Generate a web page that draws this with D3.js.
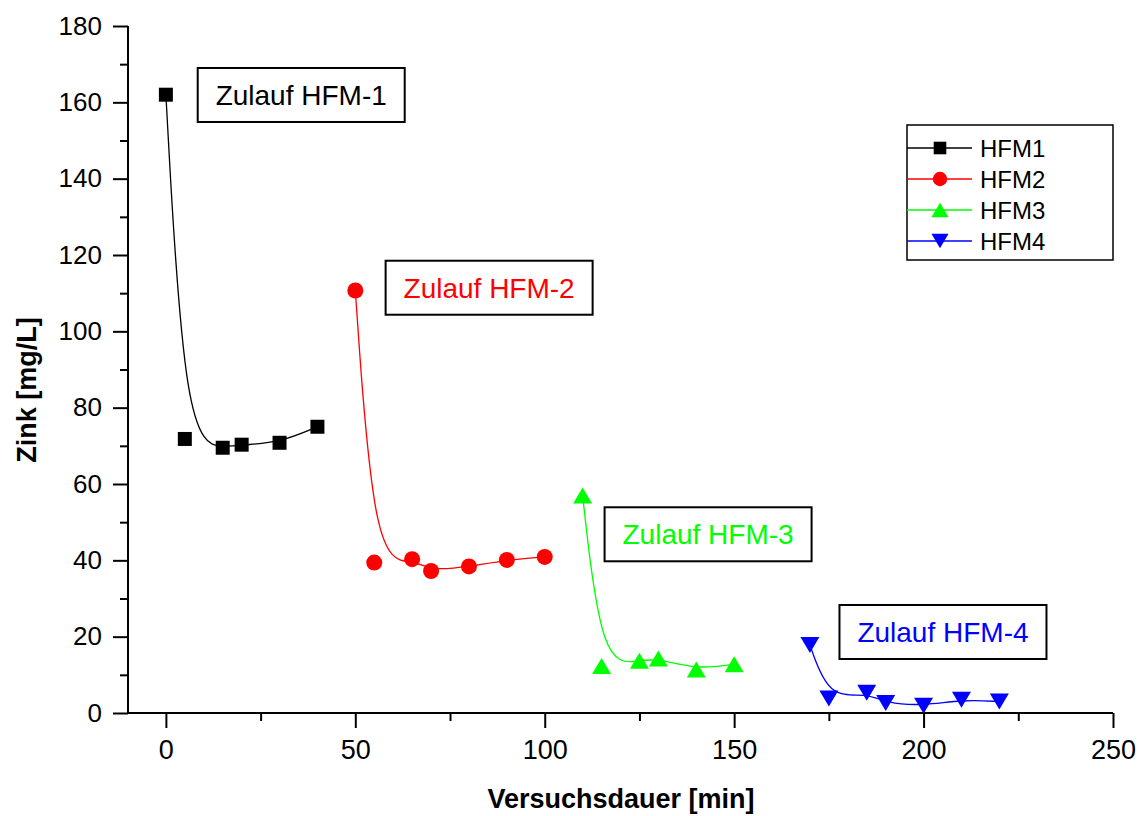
<!DOCTYPE html>
<html>
<head>
<meta charset="utf-8">
<script src="https://cdn.jsdelivr.net/npm/d3@7"></script>
<style>
  html, body { margin: 0; padding: 0; background: #fff; }
  svg { display: block; font-family: "Liberation Sans", Arial, sans-serif; }
</style>
</head>
<body>
<svg id="chart" width="1141" height="816"></svg>
<script>
// Zinc concentration over test duration, four filter stages
const seriesNames = ["HFM1", "HFM2", "HFM3", "HFM4"];
const hfm1X = [0, 5, 15, 20, 30, 40];
const hfm1Y = [162, 71.8, 69.5, 70.3, 70.8, 75];
const hfm2X = [50, 55, 65, 70, 80, 90, 100];
const hfm2Y = [110.7, 39.4, 40.3, 37.2, 38.4, 40.1, 40.9];
const hfm3X = [110, 115, 125, 130, 140, 150];
const hfm3Y = [57, 12.3, 13.7, 14.3, 11.4, 12.8];
const hfm4X = [170, 175, 185, 190, 200, 210, 220];
const hfm4Y = [17.8, 3.8, 5.3, 2.6, 1.9, 3.5, 3.0];

const xTicks = [0, 50, 100, 150, 200, 250];
const yTicks = [0, 20, 40, 60, 80, 100, 120, 140, 160, 180];

const annotationTexts = ["Zulauf HFM-1", "Zulauf HFM-2", "Zulauf HFM-3", "Zulauf HFM-4"];
// upper-left corner of each label box, in data units
const annotationAnchors = [[8.4, 169], [58.0, 118.5], [115.8, 53.9], [177.8, 28.3]];

const colors = ["#000000", "#ff0000", "#00ff00", "#0000ff"];
const shapes = ["square", "circle", "triangle", "triangleDown"];

const series = [
  { x: hfm1X, y: hfm1Y },
  { x: hfm2X, y: hfm2Y },
  { x: hfm3X, y: hfm3Y },
  { x: hfm4X, y: hfm4Y }
].map((s, i) => ({
  name: seriesNames[i], color: colors[i], shape: shapes[i],
  points: s.x.map((xv, j) => ({ x: xv, y: s.y[j] }))
}));

const svg = d3.select("#chart");
const x = d3.scaleLinear().domain([-10, 250]).range([128, 1113]);
const y = d3.scaleLinear().domain([0, 180]).range([713, 26]);

// marker drawing
function markerPath(shape) {
  if (shape === "triangle") {
    const w = 19, h = 16;
    return `M0,${-h / 2}L${w / 2},${h / 2}L${-w / 2},${h / 2}Z`;
  }
  if (shape === "triangleDown") {
    const w = 19, h = 16;
    return `M0,${h / 2}L${w / 2},${-h / 2}L${-w / 2},${-h / 2}Z`;
  }
  if (shape === "square") {
    const s = 14;
    return `M${-s / 2},${-s / 2}h${s}v${s}h${-s}Z`;
  }
  const r = 8;
  return `M${r},0A${r},${r},0,1,1,${-r},0A${r},${r},0,1,1,${r},0Z`;
}

// axes
const axisFont = "Liberation Sans, Arial, sans-serif";
const yAxis = svg.append("g").attr("transform", "translate(128,0)")
  .call(d3.axisLeft(y).tickValues(yTicks).tickSize(15).tickPadding(11).tickFormat(d3.format("d")));
svg.append("g").attr("transform", "translate(128,0)")
  .call(d3.axisLeft(y).tickValues(d3.range(10, 180, 20)).tickSize(8).tickFormat(""))
  .call(g => g.select(".domain").remove());
const xAxis = svg.append("g").attr("transform", "translate(0,713)")
  .call(d3.axisBottom(x).tickValues(xTicks).tickSize(15).tickPadding(12).tickFormat(d3.format("d")));
svg.append("g").attr("transform", "translate(0,713)")
  .call(d3.axisBottom(x).tickValues([25, 75, 125, 175, 225]).tickSize(8).tickFormat(""))
  .call(g => g.select(".domain").remove());

svg.selectAll(".domain").attr("stroke", "#000").attr("stroke-width", 2);
svg.selectAll(".tick line").attr("stroke", "#000").attr("stroke-width", 2);
yAxis.selectAll("text").attr("font-size", 26).attr("font-family", axisFont).attr("fill", "#000");
xAxis.selectAll("text").attr("font-size", 27).attr("font-family", axisFont).attr("fill", "#000");
// domain ends flush with the extent
yAxis.select(".domain").attr("d", `M0,${y(180)}V${y(0)}`);
xAxis.select(".domain").attr("d", `M${x(-10)},0H${x(250)}`);

// axis titles
svg.append("text")
  .attr("transform", "translate(36,390) rotate(-90)")
  .attr("text-anchor", "middle")
  .attr("font-size", 27).attr("font-weight", "bold")
  .text("Zink [mg/L]");
svg.append("text")
  .attr("x", 621).attr("y", 808)
  .attr("text-anchor", "middle")
  .attr("font-size", 27).attr("font-weight", "bold")
  .text("Versuchsdauer [min]");

// smoothed curves
const line = d3.line().x(d => x(d.x)).y(d => y(d.y)).curve(d3.curveBasis);
svg.append("g").selectAll("path.curve").data(series).join("path")
  .attr("class", "curve")
  .attr("d", d => line(d.points))
  .attr("fill", "none")
  .attr("stroke", d => d.color)
  .attr("stroke-width", 1.3);

// markers
series.forEach(s => {
  svg.append("g").selectAll("path").data(s.points).join("path")
    .attr("transform", d => `translate(${x(d.x)},${y(d.y)})`)
    .attr("d", markerPath(s.shape))
    .attr("fill", s.color);
});

// label boxes
const boxW = 207, boxH = 54;
annotationTexts.forEach((t, i) => {
  const [ax, ay] = annotationAnchors[i];
  const g = svg.append("g").attr("transform", `translate(${x(ax)},${y(ay)})`);
  g.append("rect").attr("width", boxW).attr("height", boxH)
    .attr("fill", "#fff").attr("stroke", "#000").attr("stroke-width", 2);
  g.append("text").attr("x", boxW / 2).attr("y", boxH / 2).attr("dy", "0.36em")
    .attr("text-anchor", "middle").attr("font-size", 28)
    .attr("fill", colors[i]).text(t);
});

// legend
const legend = svg.append("g").attr("transform", "translate(907,125)");
legend.append("rect").attr("width", 206).attr("height", 135)
  .attr("fill", "#fff").attr("stroke", "#000").attr("stroke-width", 1.5);
series.forEach((s, i) => {
  const row = legend.append("g").attr("transform", `translate(0,${23 + i * 31})`);
  row.append("line").attr("x1", 0).attr("x2", 65).attr("stroke", s.color).attr("stroke-width", 1.3);
  row.append("path").attr("transform", "translate(33,0) scale(0.9)")
    .attr("d", markerPath(s.shape)).attr("fill", s.color);
  row.append("text").attr("x", 73).attr("dy", "0.36em")
    .attr("font-size", 24).attr("fill", "#000").text(s.name);
});
</script>
</body>
</html>
